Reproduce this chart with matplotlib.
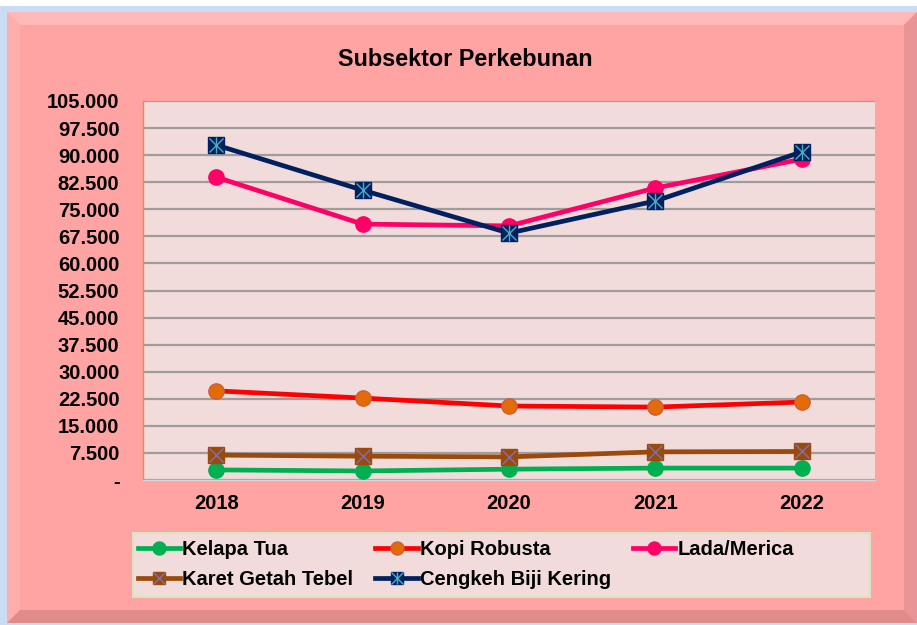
import matplotlib
matplotlib.use('Agg')
import matplotlib.pyplot as plt
from matplotlib.patches import Rectangle, Polygon

# ---- data ----
years = ['2018', '2019', '2020', '2021', '2022']
kelapa_tua = [2800, 2500, 3000, 3300, 3300]
kopi_robusta = [24700, 22700, 20500, 20200, 21600]
lada_merica = [83900, 70900, 70400, 80900, 88900]
karet_getah_tebel = [6900, 6600, 6400, 7800, 7900]
cengkeh_biji_kering = [92800, 80300, 68400, 77300, 90900]
series_names = ['Kelapa Tua', 'Kopi Robusta', 'Lada/Merica',
                'Karet Getah Tebel', 'Cengkeh Biji Kering']
y_ticks = list(range(0, 105001, 7500))
y_tick_labels = ['-'] + [f"{v:,}".replace(',', '.') for v in y_ticks[1:]]
title = 'Subsektor Perkebunan'

plt.rcParams['font.family'] = ['Liberation Sans', 'DejaVu Sans']

W, H = 917, 625
fig = plt.figure(figsize=(W / 100, H / 100), dpi=100)
fig.patch.set_facecolor('white')


def P(x, y):
    return (x / W, 1 - y / H)


def poly(pts, color, z=0):
    fig.add_artist(Polygon([P(*p) for p in pts], closed=True, transform=fig.transFigure,
                           facecolor=color, edgecolor='none', zorder=z))


# outer frame
poly([(0, 6), (917, 6), (917, 625), (0, 625)], '#C9DCF3', -10)
poly([(7, 12), (917, 12), (917, 623), (7, 623)], '#FFA3A3', -9)
b = 13
poly([(7, 12), (917, 12), (917 - b, 12 + b), (7 + b, 12 + b)], '#FFB9B9', -8)
poly([(7, 12), (7 + b, 12 + b), (7 + b, 623 - b), (7, 623)], '#FFAEAE', -8)
poly([(7, 623), (7 + b, 623 - b), (917 - b, 623 - b), (917, 623)], '#E08C8C', -8)
poly([(917, 12), (917, 623), (917 - b, 623 - b), (917 - b, 12 + b)], '#E99595', -8)

# legend frame
fig.add_artist(Rectangle(P(133, 597), (870 - 133) / W, (597 - 533) / H, transform=fig.transFigure,
                         facecolor='#F2DCDB', edgecolor='#D7E4BD', linewidth=1.5, zorder=-5))

ax = fig.add_axes([143 / W, 1 - 480 / H, (875 - 143) / W, (480 - 101) / H])
ax.set_facecolor('#F2DCDB')
x = list(range(len(years)))

ax.set_xlim(-0.5, len(years) - 0.5)
ax.set_ylim(0, 105000)
ax.set_yticks(y_ticks)
ax.set_yticklabels(y_tick_labels)
ax.set_xticks(x)
ax.set_xticklabels(years)
ax.grid(axis='y', color='#A09C9C', linewidth=1.6, zorder=0)
ax.set_axisbelow(True)
ax.tick_params(axis='both', length=0, labelsize=14.5)
ax.tick_params(axis='y', pad=17)
ax.tick_params(axis='x', pad=10)
for lab in ax.get_xticklabels() + ax.get_yticklabels():
    lab.set_fontweight('bold')
for s in ['top', 'right']:
    ax.spines[s].set_visible(False)
ax.spines['left'].set_color('#F08A3C')
ax.spines['left'].set_linewidth(1.0)
ax.spines['bottom'].set_color('#D9D9D9')
ax.spines['bottom'].set_linewidth(1.0)

lw = 3.4
h_kel, = ax.plot(x, kelapa_tua, color='#00B050', lw=lw, marker='o', ms=11,
                 mfc='#00B050', mec='#00B050', zorder=3)
h_kop, = ax.plot(x, kopi_robusta, color='#FF0000', lw=lw, marker='o', ms=11,
                 mfc='#E36C09', mec='#C8603A', mew=1, zorder=3)
h_lad, = ax.plot(x, lada_merica, color='#FF0066', lw=lw, marker='o', ms=11,
                 mfc='#FF0066', mec='#FF0066', zorder=3)
h_kar, = ax.plot(x, karet_getah_tebel, color='#9A4A0B', lw=lw, marker='s', ms=11,
                 mfc='#9A4A0B', mec='#9A4A0B', zorder=4)
h_kar2, = ax.plot(x, karet_getah_tebel, ls='none', marker='x', ms=10, mec='#7F6FB5', mew=1.0, zorder=5)
h_cen, = ax.plot(x, cengkeh_biji_kering, color='#002060', lw=lw, marker='s', ms=11,
                 mfc='#002060', mec='#002060', zorder=6)
h_cen2, = ax.plot(x, cengkeh_biji_kering, ls='none', marker='x', ms=10, mec='#4BACC6', mew=1.0, zorder=7)
h_cen3, = ax.plot(x, cengkeh_biji_kering, ls='none', marker='|', ms=11, mec='#4BACC6', mew=1.0, zorder=7)

fig.text(P(465, 60)[0], P(465, 60)[1], title, ha='center', va='center',
         fontsize=16.8, fontweight='bold', color='black')

handles = [h_kel, (h_kar, h_kar2), h_kop, (h_cen, h_cen2, h_cen3), h_lad]
labels = [series_names[0], series_names[3], series_names[1], series_names[4], series_names[2]]
leg = fig.legend(handles, labels, ncol=3, loc='upper left', bbox_to_anchor=P(134, 536),
                 frameon=False, prop={'weight': 'bold', 'size': 14.5},
                 handlelength=2.1, handletextpad=0.1, columnspacing=1.1,
                 labelspacing=0.55, borderpad=0.2, borderaxespad=0, numpoints=1,
                 markerscale=0.85)

fig.savefig('out.png', dpi=100, facecolor=fig.get_facecolor())
